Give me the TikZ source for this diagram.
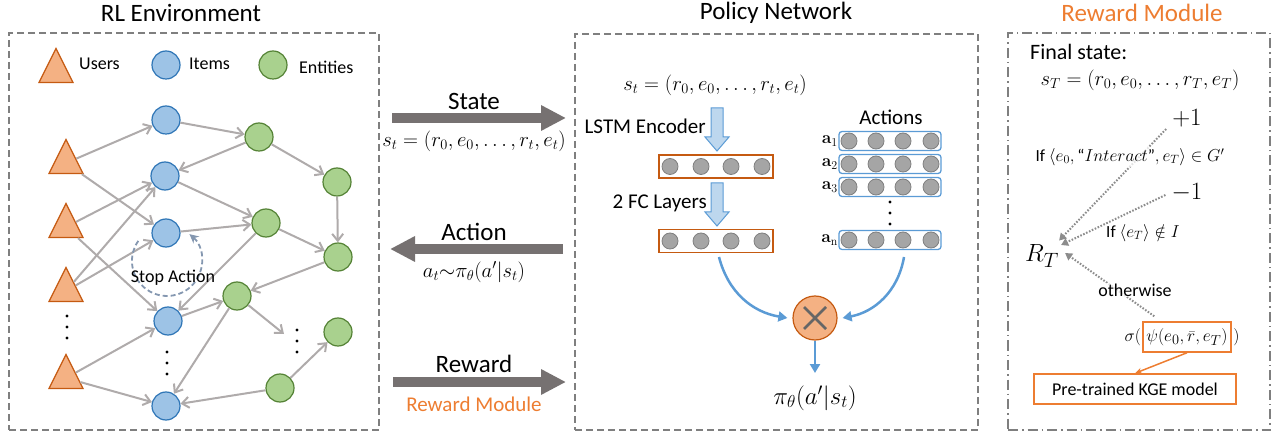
\documentclass[tikz,border=0pt]{standalone}
\usepackage{amsmath,amssymb}
\usepackage[no-math]{fontspec}
\setmainfont{Carlito}
\usetikzlibrary{arrows.meta,shapes.geometric}
\definecolor{triF}{HTML}{F4B183}
\definecolor{triD}{HTML}{C55A11}
\definecolor{itemF}{HTML}{9DC3E6}
\definecolor{itemD}{HTML}{2E75B6}
\definecolor{entF}{HTML}{A9D18E}
\definecolor{entD}{HTML}{548235}
\definecolor{edgeG}{HTML}{AFABAB}
\definecolor{bigG}{HTML}{767171}
\definecolor{boxG}{HTML}{7F7F7F}
\definecolor{orT}{HTML}{ED7D31}
\definecolor{cirG}{HTML}{A5A5A5}
\definecolor{bluL}{HTML}{5B9BD5}
\definecolor{bluF}{HTML}{BDD7EE}
\definecolor{stopC}{HTML}{8497B0}
\definecolor{dotG}{HTML}{8C8C8C}
\newcommand{\fsz}[1]{\fontsize{#1}{#1}\selectfont}
\begin{document}
\begin{tikzpicture}[x=1pt,y=-1pt,
  user/.style={isosceles triangle, shape border rotate=90, isosceles triangle stretches, minimum width=34pt, minimum height=34pt, inner sep=0pt, fill=triF, draw=triD, line width=1.2pt, anchor=apex},
  item/.style={circle, minimum size=28pt, inner sep=0pt, fill=itemF, draw=itemD, line width=1.2pt},
  ent/.style={circle, minimum size=28pt, inner sep=0pt, fill=entF, draw=entD, line width=1.2pt},
  garrow/.style={draw=edgeG, line width=2pt, -{Straight Barb[length=7pt,width=11pt]}},
  bigarrow/.style={draw=bigG, line width=10pt, -{Triangle[length=25pt,width=24pt]}},
  dbox/.style={draw=boxG, line width=1.5pt, dash pattern=on 7pt off 4pt, inner sep=0pt},
  ddbox/.style={draw=boxG, line width=1.5pt, dash pattern=on 10pt off 4pt on 1.5pt off 4pt, inner sep=0pt},
  title/.style={font=\fsz{25}, inner sep=0pt},
  lbl/.style={inner sep=0pt},
  veil/.style={inner sep=1pt, fill=white, fill opacity=0.75, text opacity=1},
  nc/.style={circle, minimum size=16pt, inner sep=0pt, fill=cirG, draw=boxG, line width=0.8pt},
  hbox/.style={draw=triD, line width=1.5pt, minimum width=114pt, minimum height=23pt, inner sep=0pt},
  abox/.style={draw=bluL, line width=1.3pt, rounded corners=3pt, minimum width=102pt, minimum height=19pt, inner sep=0pt},
  blockar/.style={fill=bluF, draw=bluL, line width=1pt},
  barrow/.style={draw=bluL, line width=2.5pt, -{Triangle[length=9pt,width=10pt]}},
  dotar/.style={draw=dotG, line width=2pt, dash pattern=on 1.6pt off 1.6pt, -{Triangle[length=7pt,width=8pt]}},
  oarrow/.style={draw=orT, line width=1.5pt, -{Stealth[length=7pt,width=6pt]}},
  obox/.style={draw=orT, line width=1.5pt, inner sep=0pt},
  stoparc/.style={draw=stopC, line width=1.8pt, dash pattern=on 5pt off 3pt, -{Stealth[length=9pt,width=9pt]}},
]
\useasboundingbox (0,0) rectangle (1281,435);

% ---------- frames and titles
\node[dbox, minimum width=370pt, minimum height=397pt] (env) at (194,231.5) {};
\node[dbox, minimum width=403pt, minimum height=396pt] (pol) at (776.5,232) {};
\node[ddbox, minimum width=262pt, minimum height=397pt] (rew) at (1139,231.5) {};
\node[title] (t1) at (181,13) {RL Environment};
\node[title] (t2) at (776,13) {Policy Network};
\node[title, text=orT] (t3) at (1142,13) {Reward Module};

% ---------- legend
\node[user] (lu) at (56,47) {};
\node[lbl, anchor=west, font=\fsz{18}] (lut) at (79,64) {Users};
\node[item] (li) at (166,65) {};
\node[lbl, anchor=west, font=\fsz{18}] (lit) at (189,64) {Items};
\node[ent] (le) at (273,65) {};
\node[lbl, anchor=west, font=\fsz{18}] (let) at (299,67) {Entities};

% ---------- graph nodes
\node[user] (U1) at (66,138) {};
\node[user] (U2) at (66,202) {};
\node[user] (U3) at (66,266) {};
\node[user] (U4) at (66,353) {};
\node[item] (I1) at (166,120) {};
\node[item] (I2) at (165,176) {};
\node[item] (I3) at (166,233) {};
\node[item] (I4) at (168,321) {};
\node[item] (I5) at (166,406) {};
\node[ent] (E1) at (259,137) {};
\node[ent] (E2) at (337,182) {};
\node[ent] (E3) at (266,223) {};
\node[ent] (E4) at (338,257) {};
\node[ent] (E5) at (237,296) {};
\node[ent] (E6) at (338,332) {};
\node[ent] (E7) at (280,388) {};
\coordinate (edots) at (284,334);

\foreach \yy in {316,327,338} \fill (67,\yy) circle[radius=1.7];
\foreach \yy in {352,363,374} \fill (167,\yy) circle[radius=1.7];
\foreach \yy in {330,341,352} \fill (297,\yy) circle[radius=1.7];

% ---------- graph edges
\draw[garrow] (U1) -- (I1);
\draw[garrow] (U1) -- (I3);
\draw[garrow] (U2) -- (I2);
\draw[garrow] (U2) -- (I4);
\draw[garrow] (U3) -- (I2);
\draw[garrow] (U3) -- (I3);
\draw[garrow] (U4) -- (I4);
\draw[garrow] (U4) -- (I5);
\draw[garrow] (I1) -- (E1);
\draw[garrow] (E1) -- (I2);
\draw[garrow] (I2) -- (E3);
\draw[garrow] (I3) -- (E3);
\draw[garrow] (E1) -- (E2);
\draw[garrow] (E2) -- (E4);
\draw[garrow] (E3) -- (E4);
\draw[garrow] (E3) -- (I4);
\draw[garrow] (E4) -- (E5);
\draw[garrow] (I4) -- (E5);
\draw[garrow] (E5) -- (edots);
\draw[garrow] (E5) -- (I5);
\draw[garrow] (E7) -- (I5);
\draw[garrow] (E7) -- (E6);

% stop action loop
\draw[stoparc] (138.3,240.9) arc[start angle=215, end angle=-50, radius=35];
\node[lbl, font=\fsz{18}] (stop) at (173,278) {Stop Action};

% ---------- middle arrows
\coordinate (sa1) at (392,118); \coordinate (sa2) at (566,118);
\coordinate (aa1) at (563,249); \coordinate (aa2) at (390,249);
\coordinate (ra1) at (393,382); \coordinate (ra2) at (566,382);
\draw[bigarrow] (sa1) -- (sa2);
\draw[bigarrow] (aa1) -- (aa2);
\draw[bigarrow] (ra1) -- (ra2);
\node[lbl, font=\fsz{25}] (stt) at (474,101) {State};
\node[lbl, font=\fsz{20}] (stf) at (474,141) {$s_t = (r_0, e_0, \ldots, r_t, e_t)$};
\node[lbl, font=\fsz{25}] (act) at (474,232) {Action};
\node[lbl, font=\fsz{20}] (acf) at (474,272) {$a_t{\sim}\pi_\theta(a'|s_t)$};
\node[lbl, font=\fsz{25}] (rwt) at (474,364) {Reward};
\node[lbl, font=\fsz{21}, text=orT] (rwm) at (474,404) {Reward Module};

% ---------- policy network
\node[lbl, font=\fsz{20}] (pst) at (715,85) {$s_t = (r_0, e_0, \ldots, r_t, e_t)$};
\draw[blockar] (711,108) -- (723,108) -- (723,137) -- (729,137) -- (717,151) -- (705,137) -- (711,137) -- cycle;
\node[lbl, anchor=east, font=\fsz{21}] (lstm) at (706,126) {LSTM Encoder};
\node[hbox] (h1) at (716,166.5) {};
\foreach \xx [count=\i] in {670,701,731,762} \node[nc] (h1c\i) at (\xx,166.5) {};
\draw[blockar] (711,183) -- (723,183) -- (723,212) -- (729,212) -- (717,226) -- (705,212) -- (711,212) -- cycle;
\node[lbl, anchor=east, font=\fsz{21}] (fc) at (707,203) {2 FC Layers};
\node[hbox] (h2) at (716,241) {};
\foreach \xx [count=\i] in {670,701,731,762} \node[nc] (h2c\i) at (\xx,241) {};

\node[lbl, font=\fsz{21}] (acts) at (891,117) {Actions};
\foreach \yy/\nm/\lab in {141/a1/{\mathbf{a}_1},164/a2/{\mathbf{a}_2},187/a3/{\mathbf{a}_3},240/an/{\mathbf{a}_{\mathrm{n}}}} {
  \node[abox] (\nm) at (890,\yy) {};
  \node[lbl, anchor=east, font=\fsz{18}] (\nm l) at (838,\yy) {$\lab$};
  \foreach \xx [count=\i] in {849,876,903,931} \node[nc] (\nm c\i) at (\xx,\yy) {};
}
\foreach \yy in {202,213,224} \fill (890,\yy) circle[radius=1.7];

\node[circle, minimum size=44pt, inner sep=0pt, fill=triF, draw=triD, line width=1.2pt] (mul) at (815,318) {};
\draw[line width=2.5pt, draw=black!60] (804,307) -- (826,329) (826,307) -- (804,329);
\draw[barrow] (719,257) .. controls (728,292) and (752,312) .. ([xshift=-5pt]mul.west);
\draw[barrow] (904,257) .. controls (898,292) and (874,312) .. ([xshift=5pt]mul.east);
\coordinate (pout) at (815,373);
\draw[barrow] (mul) -- (pout);
\node[lbl, font=\fsz{26}] (pi) at (815,398) {$\pi_\theta(a'|s_t)$};

% ---------- reward module
\node[lbl, anchor=west, font=\fsz{22}] (fs) at (1030,52) {Final state:};
\node[lbl, font=\fsz{21}] (sT) at (1140,80) {$s_T = (r_0, e_0, \ldots, r_T, e_T)$};
\node[lbl, font=\fsz{24}] (p1) at (1187,118) {$+1$};
\node[lbl, font=\fsz{24}] (m1) at (1187,193) {$-1$};
\node[lbl, font=\fsz{28}] (RT) at (1042,256) {$R_T$};
\node[obox, minimum width=88pt, minimum height=30pt, font=\fsz{19}] (psi) at (1187,337) {$\psi(e_0, \bar{r}, e_T)$};
\node[lbl, anchor=east, font=\fsz{19}] (sig) at ([xshift=-1pt]psi.west) {$\sigma($};
\node[lbl, anchor=west, font=\fsz{19}] (sigr) at ([xshift=1.5pt]psi.east) {$)$};
\node[obox, minimum width=202pt, minimum height=30pt, font=\fsz{18}] (kge) at (1135,389) {Pre-trained KGE model};
\draw[oarrow] (psi.south) -- (kge.north);
\draw[dotar] ([xshift=-6pt,yshift=-2pt]p1.south west) -- ([yshift=4pt]RT.north east);
\draw[dotar] ([xshift=-6pt,yshift=-2pt]m1.west) -- ([xshift=2pt,yshift=11pt]RT.east);
\draw[dotar] ([xshift=12pt,yshift=5pt]psi.north west) -- ([xshift=6pt,yshift=3pt]RT.east);
\node[veil, font=\fsz{17}] (c1) at (1130,157) {If $\langle e_0, \text{“}Interact\text{”}, e_T\rangle \in G'$};
\node[lbl, font=\fsz{17}] (c2) at (1143,233) {If $\langle e_T\rangle \notin I$};
\node[veil, font=\fsz{18}] (c3) at (1135,290) {otherwise};
\end{tikzpicture}
\end{document}
